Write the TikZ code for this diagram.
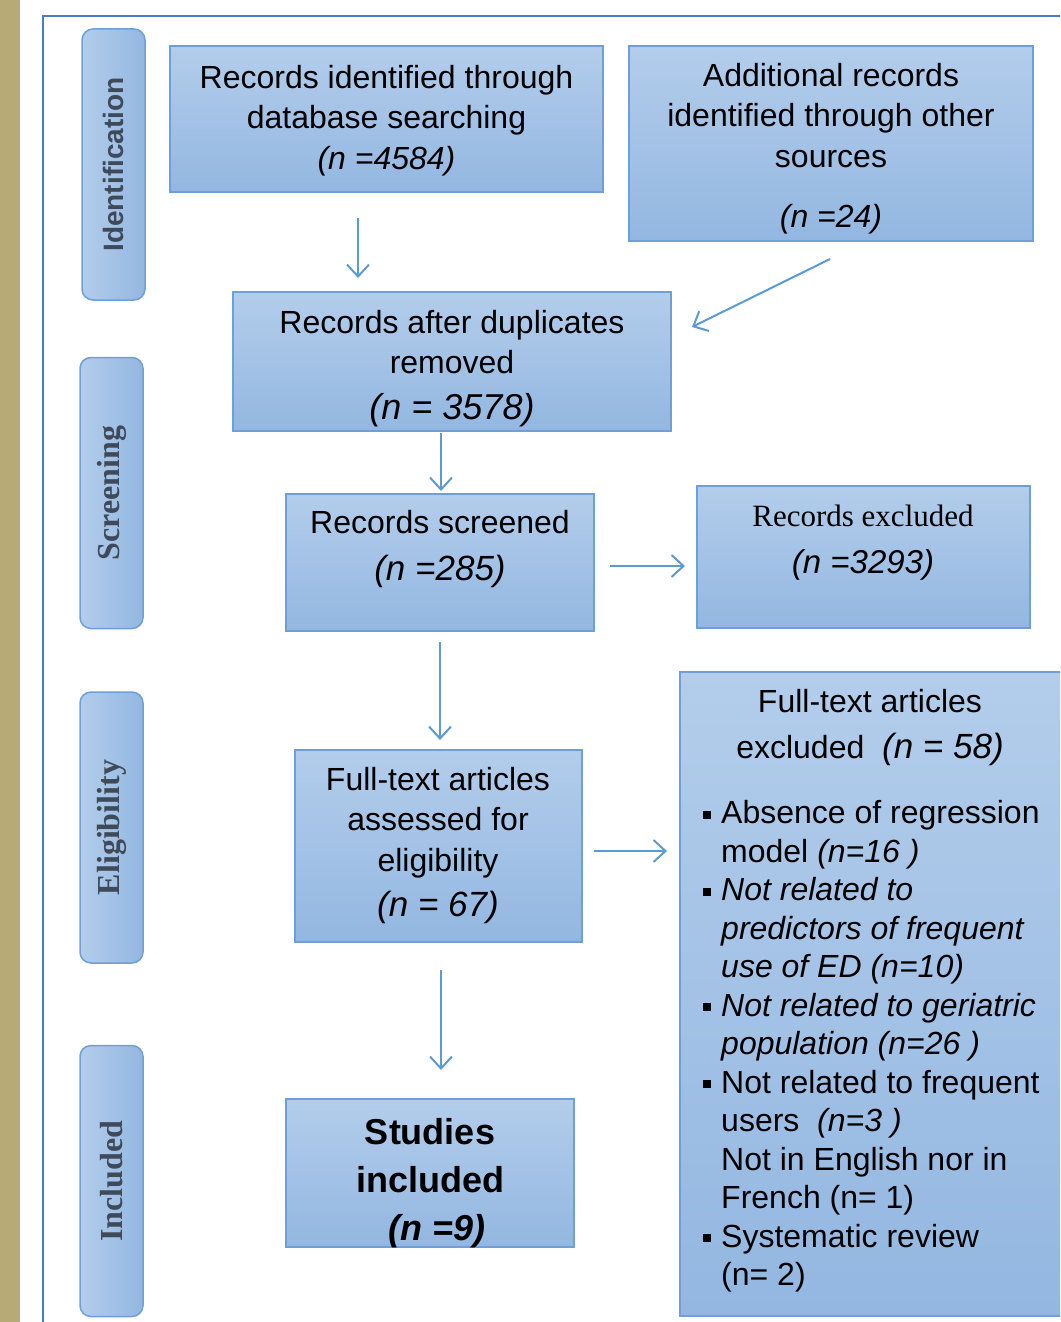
\documentclass[tikz,border=0pt]{standalone}
\usepackage{fontspec}
\setmainfont{Liberation Sans}
\newfontfamily\serifface{Liberation Serif}
\usetikzlibrary{arrows.meta}
\definecolor{boxtop}{HTML}{B3CDEB}
\definecolor{boxbot}{HTML}{93B7E1}
\definecolor{boxline}{HTML}{6E9FD9}
\definecolor{arrowc}{HTML}{5B9BD5}
\definecolor{framec}{HTML}{4A7BC8}
\definecolor{tanc}{HTML}{B8AA77}
\definecolor{sidetext}{HTML}{3E4A59}
\newcommand\setfs[2]{\fontsize{#1}{#2}\selectfont}
\newcommand\sqbullet{\llap{\raisebox{5pt}{\rule{8pt}{8pt}}\hspace{10pt}}}
\begin{document}
\begin{tikzpicture}[x=1pt,y=-1pt,
  box/.style={draw=boxline, line width=1.5pt, top color=boxtop, bottom color=boxbot, inner sep=0pt},
  side/.style={draw=boxline, line width=1.5pt, left color=boxtop, right color=boxbot, rounded corners=11pt, inner sep=0pt, minimum width=63pt, minimum height=271pt, text=sidetext},
  txt/.style={align=center, inner sep=0pt, anchor=north, font=\setfs{32}{40.5}},
  arr/.style={draw=arrowc, line width=2pt, -{Straight Barb[length=12pt,width=22pt]}}]
\useasboundingbox (0,0) rectangle (1060,1322);
\clip (0,0) rectangle (1060,1322);
% background pieces
\fill[tanc] (0,0) rectangle (20,1322);
\draw[framec, line width=2pt] (43,1340) -- (43,16) -- (1080,16);
% side labels
\node[side] (sid) at (113.5,164.5) {\rotatebox{90}{\bfseries\setfs{28}{28}Identification}};
\node[side] (sscr) at (111.5,493) {\rotatebox{90}{\serifface\bfseries\setfs{32}{32}Screening}};
\node[side] (selig) at (111.5,827.5) {\rotatebox{90}{\serifface\bfseries\setfs{32}{32}Eligibility}};
\node[side] (sinc) at (111.5,1181) {\rotatebox{90}{\serifface\bfseries\setfs{32}{32}Included}};
% boxes
\node[box, minimum width=433pt, minimum height=146pt] (b1) at (386.5,119) {};
\node[box, minimum width=404pt, minimum height=195pt] (b2) at (831,143.5) {};
\node[box, minimum width=438pt, minimum height=139pt] (b3) at (452,361.5) {};
\node[box, minimum width=308pt, minimum height=137pt] (b4) at (440,562.5) {};
\node[box, minimum width=333pt, minimum height=142pt] (b5) at (863.5,557) {};
\node[box, minimum width=287pt, minimum height=192pt] (b6) at (438.5,846) {};
\node[box, minimum width=400pt, minimum height=644pt] (b7) at (880,994) {};
\node[box, minimum width=288pt, minimum height=148pt] (b8) at (430,1173) {};
% texts
\node[txt] (t1) at (386.5,65) {Records identified through\\database searching\\\textit{(n =4584)}};
\node[txt] (t2) at (831,63) {Additional records\\identified through other\\sources\\[20pt]\textit{(n =24)}};
\node[txt] (t3) at (452,310) {Records after duplicates\\removed\\[5pt]{\setfs{36}{40.5}\textit{(n = 3578)}}};
\node[txt] (t4) at (440,510) {Records screened\\[7pt]{\setfs{35}{40.5}\textit{(n =285)}}};
\node[txt] (t5) at (863,505) {{\serifface\setfs{31}{40.5}Records excluded}\\[6pt]{\setfs{33}{40.5}\textit{(n =3293)}}};
\node[txt] (t6) at (438,767) {Full-text articles\\assessed for\\eligibility\\[5pt]{\setfs{35}{40.5}\textit{(n = 67)}}};
\node[txt, font=\setfs{36}{48}\bfseries] (t8) at (430,1118) {Studies\\included\\\hspace*{14pt}\textit{(n =9)}};
\node[txt] (t7h) at (870,689) {Full-text articles\\[6pt]excluded\ \ {\setfs{35}{40.5}\textit{(n = 58)}}};
\node[txt, align=left, anchor=north west, font=\setfs{32}{38.5}] (t7) at (721,800.5) {%
\sqbullet Absence of regression\\
model \textit{(n=16 )}\\
\sqbullet\textit{Not related to}\\
\textit{predictors of frequent}\\
\textit{use of ED (n=10)}\\
\sqbullet\textit{Not related to geriatric}\\
\textit{population (n=26 )}\\
\sqbullet Not related to frequent\\
users\ \ \textit{(n=3 )}\\
Not in English nor in\\
French (n= 1)\\
\sqbullet Systematic review\\
(n= 2)};
% arrows
\coordinate (a1s) at (358,218); \coordinate (a1e) at (358,278);
\coordinate (a2s) at (830,259); \coordinate (a2e) at (692,327);
\coordinate (a3s) at (441,433); \coordinate (a3e) at (441,491);
\coordinate (a4s) at (610,566); \coordinate (a4e) at (685,566);
\coordinate (a5s) at (440,642); \coordinate (a5e) at (440,740);
\coordinate (a6s) at (594,851); \coordinate (a6e) at (667,851);
\coordinate (a7s) at (441,970); \coordinate (a7e) at (441,1070);
\draw[arr] (a1s) -- (a1e);
\draw[arr] (a2s) -- (a2e);
\draw[arr] (a3s) -- (a3e);
\draw[arr] (a4s) -- (a4e);
\draw[arr] (a5s) -- (a5e);
\draw[arr] (a6s) -- (a6e);
\draw[arr] (a7s) -- (a7e);
\end{tikzpicture}
\end{document}
